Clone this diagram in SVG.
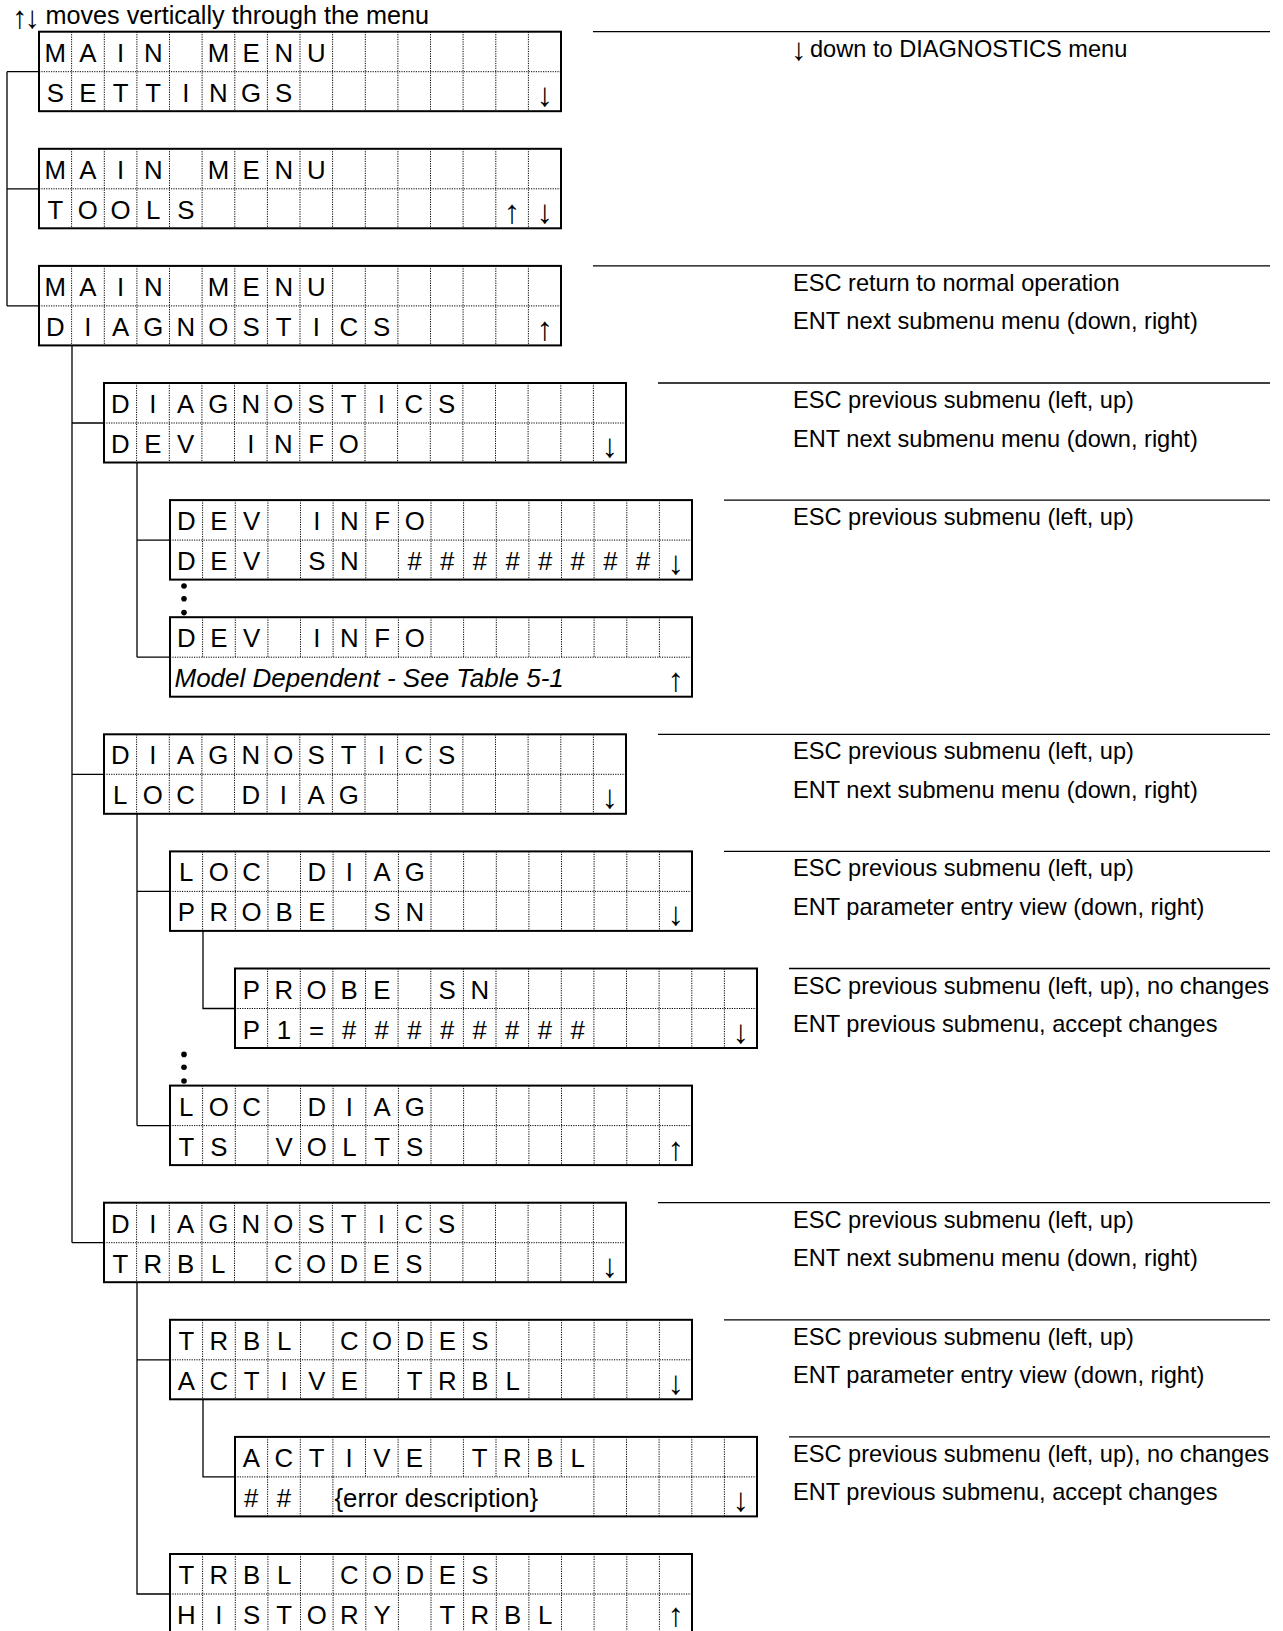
<svg xmlns="http://www.w3.org/2000/svg" xmlns:xlink="http://www.w3.org/1999/xlink" width="1283" height="1631" viewBox="0 0 1283 1631">
<style>
text{font-family:"Liberation Sans",Arial,sans-serif;fill:#000;white-space:pre}
.c{font-size:25.8px;text-anchor:middle}
.a{font-size:33px;text-anchor:middle}
.it{font-size:26px;font-style:italic}
.ed{font-size:25.8px}
.d{font-size:23.6px}
.t{font-size:25.2px}
.frame{fill:none;stroke:#000;stroke-width:2}
.dot{fill:none;stroke:#000;stroke-width:1;stroke-dasharray:1.2 1.2}
.con{fill:none;stroke:#000;stroke-width:1.3}
</style>
<defs>
<path id="divAll" class="dot" d="M32.6 0V79.5M65.3 0V79.5M97.9 0V79.5M130.5 0V79.5M163.1 0V79.5M195.8 0V79.5M228.4 0V79.5M261 0V79.5M293.6 0V79.5M326.3 0V79.5M358.9 0V79.5M391.5 0V79.5M424.1 0V79.5M456.8 0V79.5M489.4 0V79.5"/>
<path id="divTop" class="dot" d="M32.6 0V40M65.3 0V40M97.9 0V40M130.5 0V40M163.1 0V40M195.8 0V40M228.4 0V40M261 0V40M293.6 0V40M326.3 0V40M358.9 0V40M391.5 0V40M424.1 0V40M456.8 0V40M489.4 0V40"/>
<path id="divErr" class="dot" d="M32.6 40V79.5M65.3 40V79.5M97.9 40V79.5M358.9 40V79.5M391.5 40V79.5M424.1 40V79.5M456.8 40V79.5M489.4 40V79.5"/>
<path id="rowLine" class="dot" d="M0 40H522"/>
<rect id="box" class="frame" x="0" y="0" width="522" height="79.5"/>
<g id="grid"><use xlink:href="#divAll"/><use xlink:href="#rowLine"/><use xlink:href="#box"/></g>
</defs>
<rect width="1283" height="1631" fill="#fff"/>
<text class="t"><tspan x="12" y="28" style="font-size:31px;letter-spacing:-3px">↑↓</tspan> <tspan x="45.5" y="23.5">moves vertically through the menu</tspan></text>

<g id="connectors">
<path class="con" d="M7 71.7V305.9M7 71.7H39M7 188.8H39M7 305.9H39"/>
<path class="con" d="M72 345.4V1242.7M72 423H104M72 774.3H104M72 1242.7H104"/>
<path class="con" d="M137 462.5V657.2M137 540.1H170M137 657.2H170"/>
<path class="con" d="M137 813.8V1125.6M137 891.4H170M137 1125.6H170"/>
<path class="con" d="M203 930.9V1008.5H235"/>
<path class="con" d="M137 1282.2V1594H170M137 1359.8H170"/>
<path class="con" d="M203 1399.3V1476.9H235"/>
<g fill="#000">
<circle cx="184" cy="586" r="2.8"/><circle cx="184" cy="598.8" r="2.8"/><circle cx="184" cy="612.6" r="2.8"/>
<circle cx="184" cy="1054.4" r="2.8"/><circle cx="184" cy="1067.2" r="2.8"/><circle cx="184" cy="1081" r="2.8"/>
</g>
</g>

<g id="notes">
<path class="con" d="M593 31.7H1270M593 265.9H1270M658 383H1270M724 500.1H1270M658 734.3H1270M724 851.4H1270M789 968.5H1270M658 1202.7H1270M724 1319.8H1270M789 1436.9H1270"/>
<text class="d"><tspan x="791" y="59.5" style="font-size:31px">↓</tspan> <tspan x="810" y="56.7">down to DIAGNOSTICS menu</tspan></text>
<text class="d" x="793" y="290.9">ESC return to normal operation</text>
<text class="d" x="793" y="329.4">ENT next submenu menu (down, right)</text>
<text class="d" x="793" y="408">ESC previous submenu (left, up)</text>
<text class="d" x="793" y="446.5">ENT next submenu menu (down, right)</text>
<text class="d" x="793" y="525.1">ESC previous submenu (left, up)</text>
<text class="d" x="793" y="759.3">ESC previous submenu (left, up)</text>
<text class="d" x="793" y="797.8">ENT next submenu menu (down, right)</text>
<text class="d" x="793" y="876.4">ESC previous submenu (left, up)</text>
<text class="d" x="793" y="914.9">ENT parameter entry view (down, right)</text>
<text class="d" x="793" y="993.5">ESC previous submenu (left, up), no changes</text>
<text class="d" x="793" y="1032">ENT previous submenu, accept changes</text>
<text class="d" x="793" y="1227.7">ESC previous submenu (left, up)</text>
<text class="d" x="793" y="1266.2">ENT next submenu menu (down, right)</text>
<text class="d" x="793" y="1344.8">ESC previous submenu (left, up)</text>
<text class="d" x="793" y="1383.3">ENT parameter entry view (down, right)</text>
<text class="d" x="793" y="1461.9">ESC previous submenu (left, up), no changes</text>
<text class="d" x="793" y="1500.4">ENT previous submenu, accept changes</text>
</g>

<g id="main-settings" transform="translate(39,31.7)">
<use xlink:href="#grid"/>
<text class="c" x="16.3 48.9 81.6 114.2 146.8 179.4 212.1 244.7 277.3" y="30">MAIN MENU</text>
<text class="c" x="16.3 48.9 81.6 114.2 146.8 179.4 212.1 244.7" y="70">SETTINGS</text>
<text class="a" x="505.7" y="74">↓</text>
</g>

<g id="main-tools" transform="translate(39,148.8)">
<use xlink:href="#grid"/>
<text class="c" x="16.3 48.9 81.6 114.2 146.8 179.4 212.1 244.7 277.3" y="30">MAIN MENU</text>
<text class="c" x="16.3 48.9 81.6 114.2 146.8" y="70">TOOLS</text>
<text class="a" x="473.1 505.7" y="74">↑↓</text>
</g>

<g id="main-diagnostics" transform="translate(39,265.9)">
<use xlink:href="#grid"/>
<text class="c" x="16.3 48.9 81.6 114.2 146.8 179.4 212.1 244.7 277.3" y="30">MAIN MENU</text>
<text class="c" x="16.3 48.9 81.6 114.2 146.8 179.4 212.1 244.7 277.3 309.9 342.6" y="70">DIAGNOSTICS</text>
<text class="a" x="505.7" y="74">↑</text>
</g>

<g id="diag-devinfo" transform="translate(104,383)">
<use xlink:href="#grid"/>
<text class="c" x="16.3 48.9 81.6 114.2 146.8 179.4 212.1 244.7 277.3 309.9 342.6" y="30">DIAGNOSTICS</text>
<text class="c" x="16.3 48.9 81.6 114.2 146.8 179.4 212.1 244.7" y="70">DEV INFO</text>
<text class="a" x="505.7" y="74">↓</text>
</g>

<g id="devinfo-devsn" transform="translate(170,500.1)">
<use xlink:href="#grid"/>
<text class="c" x="16.3 48.9 81.6 114.2 146.8 179.4 212.1 244.7" y="30">DEV INFO</text>
<text class="c" x="16.3 48.9 81.6 114.2 146.8 179.4 212.1 244.7 277.3 309.9 342.6 375.2 407.8 440.4 473.1" y="70">DEV SN ########</text>
<text class="a" x="505.7" y="74">↓</text>
</g>

<g id="devinfo-model" transform="translate(170,617.2)">
<use xlink:href="#divTop"/><use xlink:href="#rowLine"/><use xlink:href="#box"/>
<text class="c" x="16.3 48.9 81.6 114.2 146.8 179.4 212.1 244.7" y="30">DEV INFO</text>
<text class="it" x="4.5" y="70">Model Dependent - See Table 5-1</text>
<text class="a" x="505.7" y="74">↑</text>
</g>

<g id="diag-locdiag" transform="translate(104,734.3)">
<use xlink:href="#grid"/>
<text class="c" x="16.3 48.9 81.6 114.2 146.8 179.4 212.1 244.7 277.3 309.9 342.6" y="30">DIAGNOSTICS</text>
<text class="c" x="16.3 48.9 81.6 114.2 146.8 179.4 212.1 244.7" y="70">LOC DIAG</text>
<text class="a" x="505.7" y="74">↓</text>
</g>

<g id="locdiag-probesn" transform="translate(170,851.4)">
<use xlink:href="#grid"/>
<text class="c" x="16.3 48.9 81.6 114.2 146.8 179.4 212.1 244.7" y="30">LOC DIAG</text>
<text class="c" x="16.3 48.9 81.6 114.2 146.8 179.4 212.1 244.7" y="70">PROBE SN</text>
<text class="a" x="505.7" y="74">↓</text>
</g>

<g id="probesn-entry" transform="translate(235,968.5)">
<use xlink:href="#grid"/>
<text class="c" x="16.3 48.9 81.6 114.2 146.8 179.4 212.1 244.7" y="30">PROBE SN</text>
<text class="c" x="16.3 48.9 81.6 114.2 146.8 179.4 212.1 244.7 277.3 309.9 342.6" y="70">P1=########</text>
<text class="a" x="505.7" y="74">↓</text>
</g>

<g id="locdiag-tsvolts" transform="translate(170,1085.6)">
<use xlink:href="#grid"/>
<text class="c" x="16.3 48.9 81.6 114.2 146.8 179.4 212.1 244.7" y="30">LOC DIAG</text>
<text class="c" x="16.3 48.9 81.6 114.2 146.8 179.4 212.1 244.7" y="70">TS VOLTS</text>
<text class="a" x="505.7" y="74">↑</text>
</g>

<g id="diag-trblcodes" transform="translate(104,1202.7)">
<use xlink:href="#grid"/>
<text class="c" x="16.3 48.9 81.6 114.2 146.8 179.4 212.1 244.7 277.3 309.9 342.6" y="30">DIAGNOSTICS</text>
<text class="c" x="16.3 48.9 81.6 114.2 146.8 179.4 212.1 244.7 277.3 309.9" y="70">TRBL CODES</text>
<text class="a" x="505.7" y="74">↓</text>
</g>

<g id="trblcodes-active" transform="translate(170,1319.8)">
<use xlink:href="#grid"/>
<text class="c" x="16.3 48.9 81.6 114.2 146.8 179.4 212.1 244.7 277.3 309.9" y="30">TRBL CODES</text>
<text class="c" x="16.3 48.9 81.6 114.2 146.8 179.4 212.1 244.7 277.3 309.9 342.6" y="70">ACTIVE TRBL</text>
<text class="a" x="505.7" y="74">↓</text>
</g>

<g id="active-entry" transform="translate(235,1436.9)">
<use xlink:href="#divTop"/><use xlink:href="#divErr"/><use xlink:href="#rowLine"/><use xlink:href="#box"/>
<text class="c" x="16.3 48.9 81.6 114.2 146.8 179.4 212.1 244.7 277.3 309.9 342.6" y="30">ACTIVE TRBL</text>
<text class="c" x="16.3 48.9" y="70">##</text>
<text class="ed" x="99.5" y="70">{error description}</text>
<text class="a" x="505.7" y="74">↓</text>
</g>

<g id="trblcodes-history" transform="translate(170,1554)">
<use xlink:href="#grid"/>
<text class="c" x="16.3 48.9 81.6 114.2 146.8 179.4 212.1 244.7 277.3 309.9" y="30">TRBL CODES</text>
<text class="c" x="16.3 48.9 81.6 114.2 146.8 179.4 212.1 244.7 277.3 309.9 342.6 375.2" y="70">HISTORY TRBL</text>
<text class="a" x="505.7" y="71.5">↑</text>
</g>
</svg>
